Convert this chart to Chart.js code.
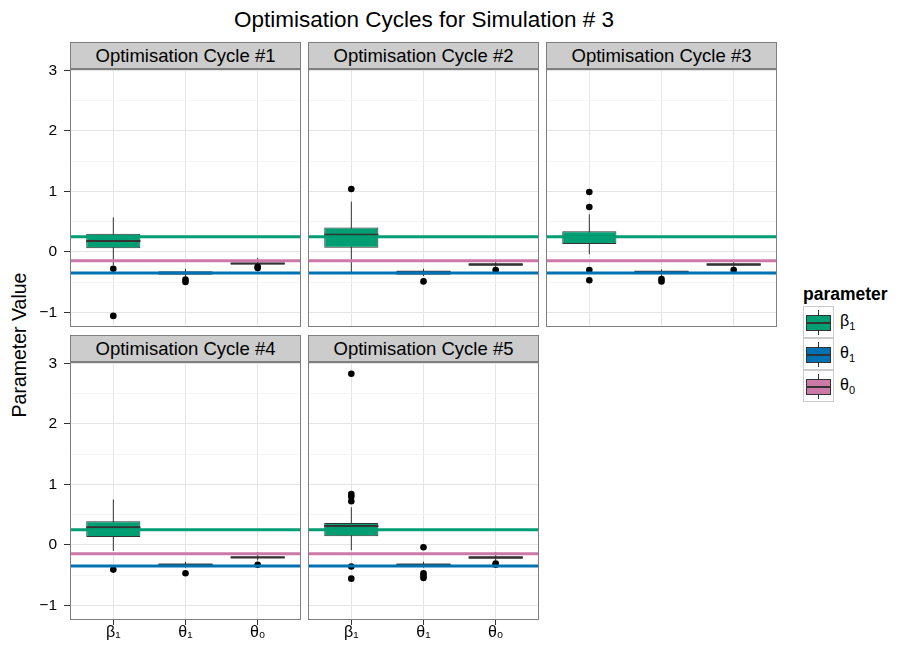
<!DOCTYPE html>
<html lang="en">
<head>
    <meta charset="UTF-8">
    <title>Optimisation Cycles for Simulation # 3</title>
    <script src="https://cdn.jsdelivr.net/npm/chart.js@4"></script>
    <style>
        body, html {
            margin: 0;
            padding: 0;
            background: #ffffff;
            font-family: 'Liberation Sans', Arial, sans-serif;
            color: #000;
        }
        #figure {
            position: relative;
            width: 899px;
            height: 656px;
            overflow: hidden;
        }
        #figure > * { position: absolute; }
        #title {
            left: 0;
            top: 6px;
            width: 848px;
            text-align: center;
            font-size: 22.5px;
            line-height: 27px;
        }
        #ylab {
            left: -81px;
            top: 333px;
            width: 200px;
            text-align: center;
            font-size: 19.5px;
            line-height: 24px;
            transform: rotate(-90deg);
        }
        .strip {
            box-sizing: border-box;
            width: 231px;
            height: 27px;
            background: #cccccc;
            border: 1px solid #7f7f7f;
            text-align: center;
            font-size: 18.5px;
            line-height: 25px;
            white-space: nowrap;
        }
        #legend { left: 803px; top: 282px; }
        #legend .ltitle { font-weight: bold; font-size: 17.5px; line-height: 24px; }
        .lrow { display: flex; align-items: center; height: 32px; }
        .key {
            position: relative;
            box-sizing: border-box;
            width: 31px;
            height: 32px;
            border: 1px solid #cccccc;
            background: #fff;
        }
        .key .wh { position: absolute; left: 14px; top: 3px; width: 1px; height: 25px; background: #333; }
        .key .bx { position: absolute; left: 2px; top: 8px; width: 25px; height: 16px; box-sizing: border-box; border: 1px solid #333; }
        .key .md { position: absolute; left: 2px; top: 15px; width: 25px; height: 2px; background: #333; }
        .lrow .lab { margin-left: 6px; font-size: 16px; color: #000; }
        .lrow .lab sub { font-size: 11px; color: #000; }
    </style>
</head>
<body>
<div id="figure">
    <div id="title">Optimisation Cycles for Simulation # 3</div>
    <div id="ylab">Parameter Value</div>
    <div id="legend">
        <div class="ltitle">parameter</div>
        <div id="legend-rows"></div>
    </div>
</div>
<script>
    // parameters shown on the x axis of every panel
    const parameters = ['β₁', 'θ₁', 'θ₀'];
    const legendLabels = ['β<sub>1</sub>', 'θ<sub>1</sub>', 'θ<sub>0</sub>'];
    const paramColours = ['#009E73', '#0072B2', '#CC79A7'];
    const trueValues = [0.25, -0.35, -0.15]; // horizontal reference lines

    const cycles = ['Optimisation Cycle #1', 'Optimisation Cycle #2', 'Optimisation Cycle #3',
                    'Optimisation Cycle #4', 'Optimisation Cycle #5'];

    const yTicks = [-1, -0.5, 0, 0.5, 1, 1.5, 2, 2.5, 3];
    const yMin = -1.244, yMax = 3.024;

    // box statistics, one row per cycle, columns follow `parameters`
    const whiskerLow = [
        [-0.22, -0.41, -0.23],
        [-0.35, -0.40, -0.25],
        [-0.04, -0.40, -0.25],
        [-0.10, -0.38, -0.26],
        [-0.09, -0.38, -0.26]
    ];
    const lowerQuartile = [
        [0.06, -0.38, -0.21],
        [0.065, -0.38, -0.23],
        [0.13, -0.37, -0.23],
        [0.13, -0.35, -0.22],
        [0.14, -0.35, -0.23]
    ];
    const medians = [
        [0.18, -0.35, -0.195],
        [0.28, -0.34, -0.21],
        [0.25, -0.34, -0.21],
        [0.29, -0.33, -0.21],
        [0.31, -0.33, -0.21]
    ];
    const upperQuartile = [
        [0.30, -0.32, -0.175],
        [0.40, -0.31, -0.19],
        [0.34, -0.31, -0.19],
        [0.39, -0.31, -0.19],
        [0.36, -0.31, -0.19]
    ];
    const whiskerHigh = [
        [0.57, -0.28, -0.10],
        [0.83, -0.28, -0.13],
        [0.62, -0.29, -0.13],
        [0.75, -0.28, -0.12],
        [0.62, -0.28, -0.12]
    ];
    const outliers = [
        [[-0.28, -1.06], [-0.46, -0.50], [-0.25, -0.27]],
        [[1.04], [-0.49], [-0.30]],
        [[0.99, 0.74, -0.30, -0.47], [-0.45, -0.49], [-0.30]],
        [[-0.41], [-0.47], [-0.33]],
        [[2.83, 0.84, 0.80, 0.72, -0.36, -0.56], [-0.04, -0.47, -0.51, -0.55], [-0.33, -0.31]]
    ];

    // panel geometry
    const PANEL_LEFT = [70, 308, 546];
    const PANEL_TOP = [69, 362];
    const PANEL_W = 231, PANEL_H = 258, STRIP_H = 27;
    const PAD = 20; // room for the outermost tick labels
    const BOX_HALF = 0.375;

    Chart.defaults.font.family = "'Liberation Sans', Arial, sans-serif";
    Chart.defaults.color = '#000';

    const panelBorder = {
        id: 'panelBorder',
        afterDraw(chart) {
            const { ctx, chartArea: a } = chart;
            ctx.save();
            ctx.strokeStyle = '#7f7f7f';
            ctx.lineWidth = 1;
            ctx.strokeRect(a.left + 0.5, a.top + 0.5, a.width - 1, a.height - 1);
            ctx.restore();
        }
    };

    const fig = document.getElementById('figure');

    function buildPanel(i) {
        const col = i % 3, row = Math.floor(i / 3);
        const showY = col === 0, showX = row === 1;
        const yW = showY ? 70 : 4, xH = showX ? 34 : PAD;
        const left = PANEL_LEFT[col], top = PANEL_TOP[row];

        const strip = document.createElement('div');
        strip.className = 'strip';
        strip.style.left = left + 'px';
        strip.style.top = (top - STRIP_H) + 'px';
        strip.textContent = cycles[i];
        fig.appendChild(strip);

        const canvas = document.createElement('canvas');
        canvas.width = yW + PANEL_W + 4;
        canvas.height = PAD + PANEL_H + xH;
        canvas.style.left = (left - yW) + 'px';
        canvas.style.top = (top - PAD) + 'px';
        fig.appendChild(canvas);

        const whiskerPts = [], medianPts = [], outlierPts = [];
        parameters.forEach((p, j) => {
            const x = j + 1;
            whiskerPts.push({ x, y: whiskerLow[i][j] }, { x, y: whiskerHigh[i][j] }, { x: x + 0.5, y: null });
            medianPts.push({ x: x - BOX_HALF, y: medians[i][j] }, { x: x + BOX_HALF, y: medians[i][j] }, { x: x + 0.5, y: null });
            outliers[i][j].forEach(v => outlierPts.push({ x, y: v }));
        });

        const datasets = [
            {
                type: 'line', data: whiskerPts, borderColor: '#333', borderWidth: 1,
                pointRadius: 0, spanGaps: false, order: 6
            },
            {
                type: 'bar',
                data: parameters.map((p, j) => ({ x: j + 1, y: [lowerQuartile[i][j], upperQuartile[i][j]] })),
                backgroundColor: paramColours, borderColor: '#333', borderWidth: 1,
                borderSkipped: false, barPercentage: 0.75, categoryPercentage: 1, order: 5
            },
            {
                type: 'line', data: medianPts, borderColor: '#333', borderWidth: 2,
                pointRadius: 0, spanGaps: false, order: 4
            },
            {
                type: 'scatter', data: outlierPts, pointRadius: 3.3, pointBackgroundColor: '#000',
                pointBorderWidth: 0, order: 3
            }
        ];
        trueValues.forEach((v, j) => {
            datasets.push({
                type: 'line', data: [{ x: 0.4, y: v }, { x: 3.6, y: v }],
                borderColor: paramColours[j], borderWidth: 3, pointRadius: 0, order: j
            });
        });

        new Chart(canvas, {
            type: 'bar',
            data: { datasets },
            plugins: [panelBorder],
            options: {
                responsive: false,
                animation: false,
                events: [],
                layout: { padding: { top: PAD, right: 4, left: 0, bottom: 0 } },
                plugins: { legend: { display: false }, tooltip: { enabled: false } },
                scales: {
                    x: {
                        type: 'linear', min: 0.4, max: 3.6, offset: false,
                        afterBuildTicks: s => { s.ticks = [1, 2, 3].map(v => ({ value: v })); },
                        afterFit: s => { s.height = xH; },
                        ticks: {
                            display: showX, autoSkip: false, maxRotation: 0, padding: -2,
                            font: { size: 16 }, color: '#000',
                            callback: v => parameters[v - 1] || ''
                        },
                        grid: { color: '#e5e5e5', offset: false, drawTicks: showX, tickLength: 5, tickColor: '#333' },
                        border: { display: false }
                    },
                    y: {
                        type: 'linear', min: yMin, max: yMax,
                        afterBuildTicks: s => { s.ticks = yTicks.map(v => ({ value: v })); },
                        afterFit: s => { s.width = yW; },
                        ticks: {
                            display: showY, autoSkip: false, padding: 7,
                            font: { size: 15.5 }, color: '#000',
                            callback: v => Number.isInteger(v) ? String(v).replace('-', '\u2212') : ''
                        },
                        grid: {
                            color: c => Number.isInteger(c.tick.value) ? '#e5e5e5' : '#f5f5f5',
                            drawTicks: showY, tickLength: 6,
                            tickColor: c => Number.isInteger(c.tick.value) ? '#333' : 'rgba(0,0,0,0)'
                        },
                        border: { display: false }
                    }
                }
            }
        });
    }

    cycles.forEach((c, i) => buildPanel(i));

    // legend
    const rows = document.getElementById('legend-rows');
    parameters.forEach((p, j) => {
        const r = document.createElement('div');
        r.className = 'lrow';
        r.innerHTML = `<div class="key"><div class="wh"></div><div class="bx" style="background:${paramColours[j]}"></div><div class="md"></div></div><span class="lab">${legendLabels[j]}</span>`;
        rows.appendChild(r);
    });
</script>
</body>
</html>
